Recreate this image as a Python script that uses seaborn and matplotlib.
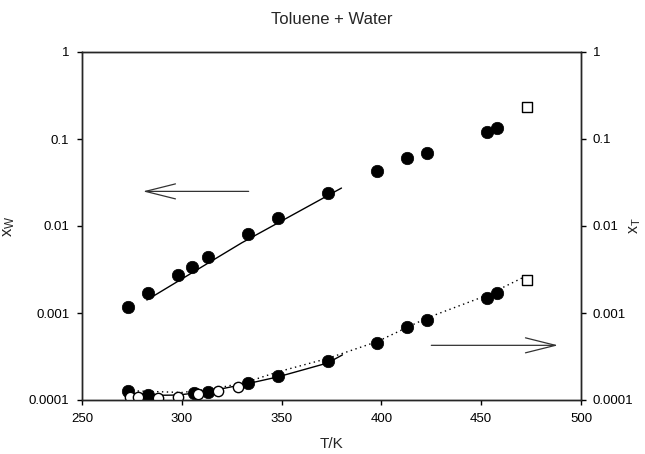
import matplotlib
matplotlib.use("Agg")
import matplotlib.pyplot as plt
import seaborn as sns
import pandas as pd

# ---- data ----
# water solubility in toluene (x_W, left axis)
tw_T = [273, 283, 298, 305, 313, 333, 348, 373, 398, 413, 423, 453, 458]
tw_x = [0.00118, 0.0017, 0.00273, 0.0034, 0.0044, 0.0081, 0.0124, 0.0239,
        0.0429, 0.0605, 0.069, 0.120, 0.134]
tw_sq_T = [473]
tw_sq_x = [0.233]
tw_fit_T = [282.5, 330, 380]
tw_fit_x = [0.00141, 0.0064, 0.0273]

# toluene solubility in water (x_T, right axis)
tt_T = [273, 283, 306, 313, 333, 348, 373, 398, 413, 423, 453, 458]
tt_x = [0.000127, 0.000114, 0.000120, 0.000124, 0.000157, 0.000189, 0.000281,
        0.000452, 0.00069, 0.00083, 0.00149, 0.00169]
tt_open_T = [274, 278, 288, 298, 308, 318, 328]
tt_open_x = [0.000108, 0.000108, 0.000105, 0.000108, 0.000117, 0.000127, 0.000141]
tt_sq_T = [473]
tt_sq_x = [0.00239]
tt_solid_T = [273, 285, 298, 313, 334, 348, 373, 380.5]
tt_solid_x = [0.000120, 0.000113, 0.000114, 0.000125, 0.000156, 0.000184, 0.000266, 0.00033]
tt_dot_T = [273, 300, 318, 333, 348, 373, 398, 423, 453, 473]
tt_dot_x = [0.000128, 0.000122, 0.000137, 0.000162, 0.00021, 0.00030, 0.00047,
            0.00088, 0.0016, 0.0027]

xticks = [250, 300, 350, 400, 450, 500]
yticks = [0.0001, 0.001, 0.01, 0.1, 1]
ytick_labels = ["0.0001", "0.001", "0.01", "0.1", "1"]

# ---- style ----
sns.set_theme(style="ticks")
plt.rcParams["font.family"] = ["Liberation Sans", "DejaVu Sans"]
plt.rcParams["mathtext.fontset"] = "custom"
plt.rcParams["mathtext.rm"] = "Liberation Sans"
plt.rcParams["mathtext.it"] = "Liberation Sans"

fig = plt.figure(figsize=(6.45, 4.54), dpi=100)
ax = fig.add_axes([82 / 645, 1 - 400 / 454, (581 - 82) / 645, (400 - 52) / 454])

ax.set_yscale("log")
ax.set_xlim(250, 500)
ax.set_ylim(0.0001, 1)

lw_axis = 1.0
for s in ax.spines.values():
    s.set_linewidth(lw_axis)
    s.set_color("black")

# upper (left axis) series
sns.lineplot(x=tw_fit_T, y=tw_fit_x, ax=ax, color="black", lw=1.0, legend=False)
sns.scatterplot(x=tw_T, y=tw_x, ax=ax, color="black", s=80, edgecolor="black",
                linewidth=0.5, legend=False, zorder=3)
sns.scatterplot(x=tw_sq_T, y=tw_sq_x, ax=ax, marker="s", facecolor="white",
                edgecolor="black", s=45, linewidth=1.0, legend=False, zorder=3)

# lower (right axis) series on the same scale
sns.lineplot(x=tt_dot_T, y=tt_dot_x, ax=ax, color="black", lw=1.0,
             linestyle=(0, (1, 2.5)), legend=False)
sns.lineplot(x=tt_solid_T, y=tt_solid_x, ax=ax, color="black", lw=1.0, legend=False)
sns.scatterplot(x=tt_T, y=tt_x, ax=ax, color="black", s=80, edgecolor="black",
                linewidth=0.5, legend=False, zorder=3)
sns.scatterplot(x=tt_open_T, y=tt_open_x, ax=ax, facecolor="white",
                edgecolor="black", s=55, linewidth=1.0, legend=False, zorder=4)
sns.scatterplot(x=tt_sq_T, y=tt_sq_x, ax=ax, marker="s", facecolor="white",
                edgecolor="black", s=45, linewidth=1.0, legend=False, zorder=3)

# arrows
astyle = dict(arrowstyle="->,head_length=1.8,head_width=0.45", color="#333333",
              lw=0.9, shrinkA=0, shrinkB=0)
ax.annotate("", xy=(280.5, 0.025), xytext=(333.5, 0.025), arrowprops=astyle)
ax.annotate("", xy=(488.5, 0.000425), xytext=(425, 0.000425), arrowprops=astyle)

ax.set_xticks(xticks)
ax.set_xticklabels([str(t) for t in xticks])
ax.set_yticks(yticks)
ax.set_yticklabels(ytick_labels)
ax.minorticks_off()
ax.tick_params(axis="x", direction="out", length=3.6, width=1.0, labelsize=9.5,
               colors="black", pad=6)
ax.tick_params(axis="y", direction="out", length=3.6, width=1.0, labelsize=9.5,
               colors="black", pad=5.5)
ax.set_xlabel("T/K", fontsize=11)
ax.xaxis.set_label_coords(0.5, -0.105)
ax.set_ylabel(r"$\mathregular{x_W}$", fontsize=12)
ax.yaxis.set_label_coords(-0.13, 0.5)

ax2 = ax.twinx()
ax2.set_yscale("log")
ax2.set_ylim(0.0001, 1)
ax2.set_yticks(yticks)
ax2.set_yticklabels(ytick_labels)
ax2.minorticks_off()
ax2.tick_params(axis="y", direction="out", length=3.6, width=1.0, labelsize=9.5,
                colors="black", pad=5)
ax2.set_ylabel(r"$\mathregular{x_T}$", fontsize=11.5, rotation=90)
ax2.yaxis.set_label_coords(1.092, 0.5)
for s in ax2.spines.values():
    s.set_linewidth(lw_axis)

fig.suptitle("Toluene + Water", x=(82 + 581) / 2 / 645, y=1 - 12 / 454,
             fontsize=12, va="top")

fig.savefig("out.png", dpi=100)
